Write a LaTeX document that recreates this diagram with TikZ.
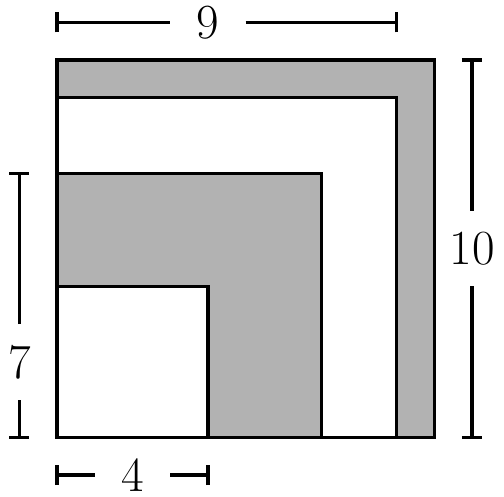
\documentclass[tikz,border=0pt]{standalone}
\usepackage{tikz}
\usetikzlibrary{positioning}

\begin{document}
\begin{tikzpicture}[line width=2.4pt, every node/.style={inner sep=0pt, font=\fontsize{37}{40}\selectfont}]
                \useasboundingbox (-1.511,-1.582) rectangle (11.847,11.59);
                \filldraw[fill=black!30, draw=black] (0,0) -- (0,10) -- (10,10) -- (10,0) -- cycle;
                \filldraw[fill=white, draw=black] (0,0) -- (0,9) -- (9,9) -- (9,0) -- cycle;
                \filldraw[fill=black!30, draw=black] (0,0) -- (0,7) -- (7,7) -- (7,0) -- cycle;
                \filldraw[fill=white, draw=black] (0,0) -- (0,4) -- (4,4) -- (4,0) -- cycle;
                % top: 9
                \coordinate (t0) at (0,11);
                \coordinate (t1) at (3,11);
                \coordinate (t2) at (5,11);
                \coordinate (t3) at (9,11);
                \node (nine) at (4,11) {9};
                \draw (t0) -- (t1);
                \draw (t2) -- (t3);
                \draw ([yshift=-0.27cm]t0) -- ([yshift=0.27cm]t0);
                \draw ([yshift=-0.27cm]t3) -- ([yshift=0.27cm]t3);
                % right: 10
                \coordinate (r0) at (11,0);
                \coordinate (r1) at (11,4);
                \coordinate (r2) at (11,6);
                \coordinate (r3) at (11,10);
                \node (ten) at (11,5) {10};
                \draw (r0) -- (r1);
                \draw (r2) -- (r3);
                \draw ([xshift=-0.27cm]r0) -- ([xshift=0.27cm]r0);
                \draw ([xshift=-0.27cm]r3) -- ([xshift=0.27cm]r3);
                % left: 7
                \coordinate (l0) at (-1,0);
                \coordinate (l1) at (-1,1);
                \coordinate (l2) at (-1,3);
                \coordinate (l3) at (-1,7);
                \node (seven) at (-1,2) {7};
                \draw (l0) -- (l1);
                \draw (l2) -- (l3);
                \draw ([xshift=-0.27cm]l0) -- ([xshift=0.27cm]l0);
                \draw ([xshift=-0.27cm]l3) -- ([xshift=0.27cm]l3);
                % bottom: 4
                \coordinate (b0) at (0,-1);
                \coordinate (b1) at (1,-1);
                \coordinate (b2) at (3,-1);
                \coordinate (b3) at (4,-1);
                \node (four) at (2,-1) {4};
                \draw (b0) -- (b1);
                \draw (b2) -- (b3);
                \draw ([yshift=-0.27cm]b0) -- ([yshift=0.27cm]b0);
                \draw ([yshift=-0.27cm]b3) -- ([yshift=0.27cm]b3);
            \end{tikzpicture}
\end{document}
